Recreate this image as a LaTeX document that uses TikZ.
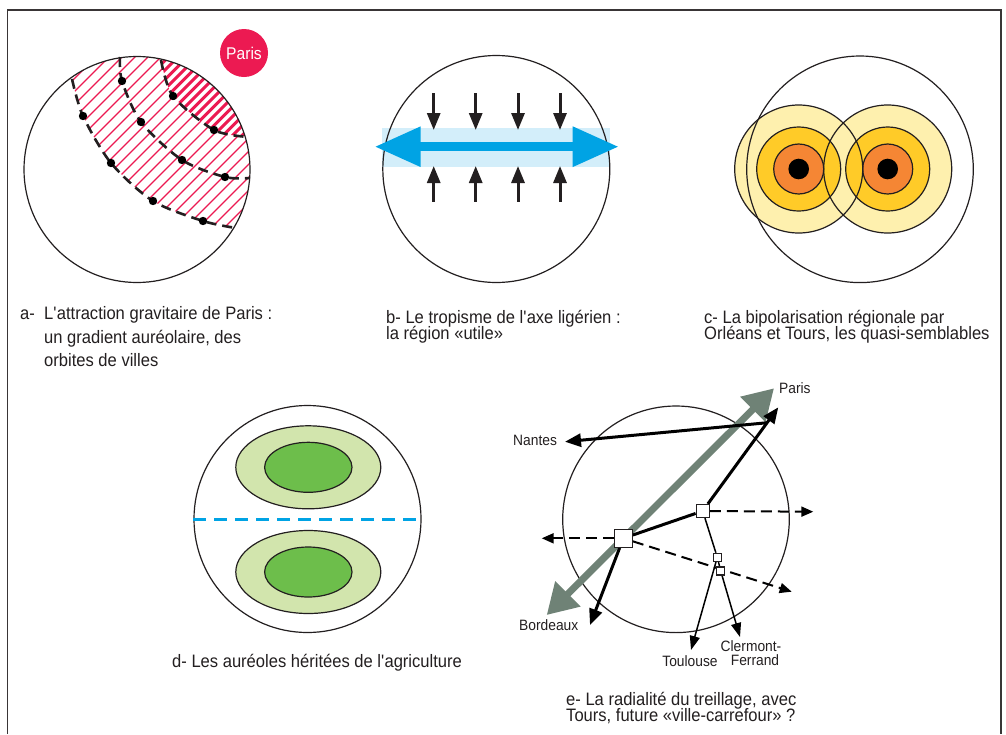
\documentclass[tikz,border=0pt]{standalone}
\usepackage{fontspec}
\setmainfont{Liberation Sans}[FakeStretch=0.92]
\usetikzlibrary{arrows.meta}
\definecolor{crim}{HTML}{EC1A52}
\definecolor{lblue}{HTML}{D3EEFA}
\definecolor{cyanb}{HTML}{00A3E4}
\definecolor{pale}{HTML}{FEF0AE}
\definecolor{gold}{HTML}{FFCB28}
\definecolor{orng}{HTML}{F58634}
\definecolor{lgreen}{HTML}{D2E5AD}
\definecolor{mgreen}{HTML}{6DBE4B}
\definecolor{graygreen}{HTML}{6F8276}
\definecolor{ink}{HTML}{231F20}
\newcommand\figcapfont{\fontsize{18}{18}\selectfont}
\newcommand\lblfont{\fontsize{15}{15}\selectfont}
\begin{document}
\begin{tikzpicture}[x=1pt,y=-1pt,
  outline/.style={draw=ink,line width=1.2pt},
  capt/.style={anchor=base west,inner sep=0pt,font=\figcapfont,text=ink},
  lbl/.style={inner sep=0pt,font=\lblfont,text=ink},
  orbit/.style={draw=ink,line width=2.6pt,dash pattern=on 10pt off 6pt},
  town/.style={fill=black},
  hatchthin/.style={draw=crim,line width=1.1pt},
  hatchthick/.style={draw=crim,line width=3pt},
  smallarrow/.style={draw=ink,line width=3pt,-{Triangle[length=17pt,width=13pt]}},
  sq/.style={draw=ink,fill=white,line width=1.2pt,inner sep=0pt,minimum size=#1},
  thickarrow/.style={draw=black,line width=3pt,-{Triangle[length=16pt,width=13pt]}},
  thinarrow/.style={draw=black,line width=1.5pt,-{Triangle[length=14pt,width=10pt]}},
  dasharrow/.style={draw=black,line width=2pt,dash pattern=on 11pt off 6pt,-{Triangle[length=12pt,width=10pt]}}
]
\useasboundingbox (0,0) rectangle (1006,734);
\fill[white] (0,0) rectangle (1006,734);
\draw[ink!90,line width=1.3pt] (7.5,734) -- (7.5,10) -- (1001,10) -- (1001,734);

% ---------- panel a ----------
\coordinate (ca) at (137,169.5);
\begin{scope}
  \clip (ca) circle[radius=113pt];
  \begin{scope}
    \clip plot[smooth] coordinates {(72,79) (83,116) (111,163) (153,201) (203,221) (236,228)}
      -- (262,228) -- (262,137)
      -- plot[smooth] coordinates {(249,137) (214,130) (173,96) (161,60)}
      -- (150,40) -- (60,40) -- cycle;
    \foreach \s in {140,153,...,480} \draw[hatchthin] (\s,0) -- (\s-300,300);
  \end{scope}
  \begin{scope}
    \clip plot[smooth] coordinates {(161,60) (173,96) (214,130) (249,137)}
      -- (262,137) -- (262,40) -- (150,40) -- cycle;
    \foreach \s in {140,149.5,...,480} \draw[hatchthick] (\s,0) -- (\s-300,300);
  \end{scope}
\end{scope}
\node[circle,outline,minimum size=226pt,inner sep=0pt] (circA) at (ca) {};
\draw[orbit] plot[smooth] coordinates {(161,60) (173,96) (214,130) (249,137)};
\draw[orbit] plot[smooth] coordinates {(120,57) (122,81) (141,122) (182,160) (225,177) (250,178)};
\draw[orbit] plot[smooth] coordinates {(72,79) (83,116) (111,163) (153,201) (203,221) (236,228)};
\foreach \p in {(173,96),(214,130),(122,81),(141,122),(182,160),(225,177),(83,116),(111,163),(153,201),(203,221)}
  \fill[town] \p circle[radius=4.2pt];
\node[circle,fill=crim,minimum size=48pt,inner sep=0pt,text=white,font=\fontsize{17}{17}\selectfont] (parisA) at (244,53) {Paris};

\node[capt] (capa0) at (20,319) {a-};
\node[capt] (capa1) at (44,319) {L\textquotesingle attraction gravitaire de Paris :};
\node[capt] (capa2) at (44,343) {un gradient auréolaire, des};
\node[capt] (capa3) at (44,366) {orbites de villes};

% ---------- panel b ----------
\fill[lblue] (382,127.7) rectangle (610,166.7);
\node[circle,outline,minimum size=227pt,inner sep=0pt] (circB) at (496.3,169) {};
\coordinate (bl) at (374.7,146.7);
\coordinate (br) at (618.7,146.7);
\draw[cyanb,line width=9pt,{Triangle[length=46pt,width=38pt]}-{Triangle[length=46pt,width=38pt]}] (bl) -- (br);
\foreach \x in {433.7,475.7,518,560} {
  \draw[smallarrow] (\x,93.3) -- (\x,130);
  \draw[smallarrow] (\x,201.7) -- (\x,166);
}
\node[capt] (capb1) at (386,323) {b- Le tropisme de l\textquotesingle axe ligérien :};
\node[capt] (capb2) at (386,339) {la région «utile»};

% ---------- panel c ----------
\coordinate (orl) at (798.7,169);
\coordinate (tou) at (887.7,169);
\foreach \c in {orl,tou} \fill[pale] (\c) circle[radius=64pt];
\foreach \c in {orl,tou} \fill[gold] (\c) circle[radius=42pt];
\foreach \c in {orl,tou} \fill[orng] (\c) circle[radius=25pt];
\foreach \c in {orl,tou} \fill[black] (\c) circle[radius=10.3pt];
\foreach \c in {orl,tou} {
  \draw[outline] (\c) circle[radius=64pt];
  \draw[outline] (\c) circle[radius=42pt];
  \draw[outline] (\c) circle[radius=25pt];
}
\node[circle,outline,minimum size=226.6pt,inner sep=0pt] (circC) at (860,169.3) {};
\node[capt] (capc1) at (704,323) {c- La bipolarisation régionale par};
\node[capt] (capc2) at (704,339) {Orléans et Tours, les quasi-semblables};

% ---------- panel d ----------
\node[circle,outline,minimum size=227pt,inner sep=0pt] (circD) at (307.5,519) {};
\filldraw[outline,fill=lgreen] (308.3,467.3) ellipse[x radius=72.5pt,y radius=41.5pt];
\filldraw[outline,fill=mgreen] (308.3,467.3) ellipse[x radius=43.7pt,y radius=25pt];
\filldraw[outline,fill=lgreen] (308.3,572) ellipse[x radius=72.5pt,y radius=41.5pt];
\filldraw[outline,fill=mgreen] (308.3,572) ellipse[x radius=43.7pt,y radius=25pt];
\draw[cyanb,line width=3pt,dash pattern=on 12.5pt off 8.5pt] (circD.west) -- (circD.east);
\node[capt] (capd) at (172,667) {d- Les auréoles héritées de l\textquotesingle agriculture};

% ---------- panel e ----------
\node[circle,outline,minimum size=226.6pt,inner sep=0pt] (circE) at (676,519.3) {};
\coordinate (gA) at (546.7,615);
\coordinate (gB) at (774,388.3);
\draw[graygreen,line width=7pt,{Triangle[length=30pt,width=34pt]}-{Triangle[length=30pt,width=34pt]}] (gA) -- (gB);
\node[sq=18pt] (tours) at (623.3,538.3) {};
\node[sq=13pt] (hub) at (702.7,511) {};
\node[sq=8pt] (t1) at (717.3,557.3) {};
\node[sq=8pt] (t2) at (720.7,571) {};
\coordinate (pTip) at (778.3,407.3);
\coordinate (J) at (767.5,422.7);
\coordinate (nTip) at (565,441.7);
\coordinate (bTip) at (590,625);
\coordinate (tlTip) at (691,650);
\coordinate (cfTip) at (740,637);
\coordinate (eTip) at (813.3,511.7);
\coordinate (wTip) at (541.7,538.3);
\coordinate (seTip) at (791.7,591.7);
\draw[dasharrow] (hub) -- (eTip);
\draw[dasharrow] (tours) -- (wTip);
\draw[dasharrow] (tours) -- (seTip);
\draw[black,line width=3pt] (tours) -- (hub);
\draw[thickarrow] (hub) -- (pTip);
\draw[thickarrow] (J) -- (nTip);
\draw[thickarrow] (tours) -- (bTip);
\draw[black,line width=1.5pt] (hub) -- (t1);
\draw[black,line width=1.5pt] (t1) -- (t2);
\draw[thinarrow] (t1) -- (tlTip);
\draw[thinarrow] (t2) -- (cfTip);
\node[sq=18pt] at (tours) {};
\node[sq=13pt] at (hub) {};
\node[sq=8pt] at (t1) {};
\node[sq=8pt] at (t2) {};
\node[lbl,anchor=base west] (lParis) at (779,393) {Paris};
\node[lbl,anchor=base west] (lNantes) at (513,445) {Nantes};
\node[lbl,anchor=base west] (lBord) at (519,630) {Bordeaux};
\node[lbl,anchor=base] (lToul) at (690,666) {Toulouse};
\node[lbl,anchor=base] (lClerm) at (751,651.5) {Clermont-};
\node[lbl,anchor=base] (lFerr) at (755,665) {Ferrand};
\node[capt] (cape1) at (566,705) {e- La radialité du treillage, avec};
\node[capt] (cape2) at (566,721) {Tours, future «ville-carrefour» ?};
\end{tikzpicture}
\end{document}
